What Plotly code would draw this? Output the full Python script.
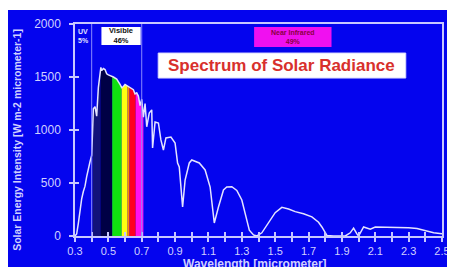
import numpy as np
import plotly.graph_objects as go

# Spectrum data (wavelength in micrometer, intensity W m-2 micrometer-1)
wavelength = [0.30, 0.31, 0.32, 0.33, 0.34, 0.35, 0.36, 0.37, 0.38, 0.39, 0.40, 0.405, 0.41, 0.42, 0.43,
              0.44, 0.45, 0.455, 0.46, 0.47, 0.48, 0.49, 0.50, 0.52, 0.53, 0.55, 0.56, 0.57, 0.58,
              0.59, 0.60, 0.61, 0.62, 0.63, 0.65, 0.66, 0.67, 0.68, 0.69, 0.70, 0.71, 0.72, 0.73,
              0.745, 0.76, 0.765, 0.78, 0.80, 0.815, 0.83, 0.845, 0.875, 0.90, 0.915, 0.925, 0.945,
              0.96, 0.985, 1.00, 1.045, 1.08, 1.11, 1.125, 1.135, 1.16, 1.19, 1.21, 1.24, 1.27,
              1.30, 1.33, 1.345, 1.37, 1.39, 1.42, 1.46, 1.50, 1.54, 1.58, 1.62, 1.67, 1.72,
              1.76, 1.78, 1.81, 1.85, 1.92, 1.95, 1.97, 1.99, 2.00, 2.03, 2.07, 2.10, 2.20,
              2.30, 2.35, 2.40, 2.45, 2.50]
intensity = [0, 20, 120, 260, 350, 420, 470, 560, 640, 700, 760, 1050, 1200, 1220, 1130,
             1400, 1560, 1590, 1560, 1580, 1570, 1530, 1520, 1510, 1500, 1480, 1460, 1430, 1400,
             1410, 1430, 1420, 1410, 1400, 1380, 1340, 1350, 1320, 1230, 1290, 1120, 1250, 1030,
             1160, 1190, 830, 1075, 1066, 906, 811, 925, 934, 877, 689, 651, 274,
             528, 689, 717, 689, 623, 462, 217, 123, 274, 434, 462, 465, 430,
             340, 150, 55, 10, 0, 30, 120, 220, 270, 255, 230, 210, 180,
             130, 85, 5, 0, 0, 30, 75, 20, 0, 85, 65, 85, 82,
             78, 70, 50, 30, 20]

# Colour bands (start, end, colour)
band_start = [0.405, 0.453, 0.523, 0.58, 0.615, 0.627, 0.664]
band_end = [0.453, 0.523, 0.58, 0.615, 0.627, 0.664, 0.71]
band_color = ["#12127a", "#000045", "#10e010", "#ffff10", "#ff8a00", "#ff0020", "#ff10f0"]

x_ticks = [0.3, 0.5, 0.7, 0.9, 1.1, 1.3, 1.5, 1.7, 1.9, 2.1, 2.3, 2.5]
y_ticks = [0, 500, 1000, 1500, 2000]

FONT = "Arial, Liberation Sans, sans-serif"
AXC = "#c8c8ff"
BG = "#0404ee"

wl = np.array(wavelength)
it = np.array(intensity)

fig = go.Figure()

for a, b, c in zip(band_start, band_end, band_color):
    mask = (wl > a) & (wl < b)
    xs = np.concatenate([[a], wl[mask], [b]])
    ys = np.interp(xs, wl, it)
    fig.add_trace(go.Scatter(x=xs, y=ys, mode="lines", line=dict(width=0, color=c),
                             fill="tozeroy", fillcolor=c, hoverinfo="skip", showlegend=False))

fig.add_trace(go.Scatter(x=wavelength, y=intensity, mode="lines",
                         line=dict(color="#e4e4ff", width=1.5), showlegend=False))

# invisible trace for overlay axes (inside ticks)
fig.add_trace(go.Scatter(x=[0.3], y=[0], xaxis="x2", yaxis="y2", mode="markers",
                         marker=dict(opacity=0), showlegend=False, hoverinfo="skip"))

# region dividers
for xv in [0.4, 0.7]:
    fig.add_shape(type="line", x0=xv, x1=xv, y0=0, y1=2000, xref="x", yref="y",
                  line=dict(color="#8a8aff", width=1), layer="above")

# thin white strip at top
fig.add_shape(type="rect", xref="paper", yref="paper", x0=-0.2, x1=1.05, y0=1.066, y1=1.08,
              fillcolor="white", line=dict(width=0), layer="below")

# Title box
fig.add_shape(type="rect", xref="paper", yref="paper", x0=0.2267, x1=0.9013, y0=0.745, y1=0.863,
              fillcolor="white", line=dict(color="#d8d8ff", width=1), layer="above")
fig.add_annotation(xref="paper", yref="paper", x=0.564, y=0.804, xanchor="center", yanchor="middle",
                   text="<b>Spectrum of Solar Radiance</b>",
                   showarrow=False, font=dict(family=FONT, size=17, color="#d8302c"))

# Near infrared box
fig.add_shape(type="rect", xref="paper", yref="paper", x0=0.488, x1=0.699, y0=0.892, y1=0.986,
              fillcolor="#f010f0", line=dict(width=0), layer="above")
fig.add_annotation(xref="paper", yref="paper", x=0.5935, y=0.939, xanchor="center", yanchor="middle",
                   text="<b>Near Infrared<br>49%</b>",
                   showarrow=False, font=dict(family=FONT, size=7, color="#8a0040"))

# Visible box
fig.add_shape(type="rect", xref="paper", yref="paper", x0=0.072, x1=0.179, y0=0.901, y1=0.986,
              fillcolor="white", line=dict(width=0), layer="above")
fig.add_annotation(xref="paper", yref="paper", x=0.1255, y=0.9435, xanchor="center", yanchor="middle",
                   text="<b>Visible<br>46%</b>",
                   showarrow=False, font=dict(family=FONT, size=7.5, color="#101010"))

# UV label
fig.add_annotation(xref="paper", yref="paper", x=0.004, y=0.99, xanchor="left", yanchor="top",
                   text="<b>UV<br>5%</b>", align="left", showarrow=False,
                   font=dict(family=FONT, size=7, color="#e0e0ff"))

# Axis titles
fig.add_annotation(xref="paper", yref="paper", x=-0.16, y=0.455, xanchor="center", yanchor="middle",
                   textangle=-90,
                   text="<b>Solar Energy Intensity [W m-2 micrometer-1]</b>", showarrow=False,
                   font=dict(family=FONT, size=10.5, color="#d0d0ff"))
fig.add_annotation(xref="paper", yref="paper", x=0.49, y=-0.089, xanchor="center", yanchor="top",
                   text="<b>Wavelength [micrometer]</b>", showarrow=False,
                   font=dict(family=FONT, size=12, color="#d0d0ff"))

axis_common = dict(showgrid=False, zeroline=False, linecolor=AXC, linewidth=1.5,
                   tickcolor=AXC, tickwidth=1.5, ticklen=4)

x_tickpos = [v if v < 2.5 else 2.4999 for v in x_ticks]

fig.update_layout(
    width=447, height=259,
    margin=dict(l=67, r=5, t=16, b=31),
    paper_bgcolor=BG, plot_bgcolor=BG,
    showlegend=False,
    xaxis=dict(range=[0.3, 2.5], tickvals=x_tickpos, ticktext=[f"{v:.1f}" for v in x_ticks],
               ticks="outside", showline=True, mirror=True, ticklabeloverflow="allow",
               tickfont=dict(family=FONT, size=11, color="#d0d0ff"),
               minor=dict(dtick=0.1, tick0=0.3, ticks="outside", ticklen=4, tickcolor=AXC, tickwidth=1.5),
               **axis_common),
    yaxis=dict(range=[0, 2000], tickvals=y_ticks, ticks="outside", showline=True, mirror=True,
               ticklabelstandoff=6, tickfont=dict(family=FONT, size=12, color="#d0d0ff"),
               **axis_common),
    xaxis2=dict(range=[0.3, 2.5], overlaying="x", anchor="y2", tickvals=x_tickpos, ticks="inside",
                showticklabels=False, showline=False, showgrid=False, zeroline=False,
                ticklen=4, tickcolor=AXC, tickwidth=1.5,
                minor=dict(dtick=0.1, tick0=0.3, ticks="inside", ticklen=4, tickcolor=AXC, tickwidth=1.5)),
    yaxis2=dict(range=[0, 2000], overlaying="y", anchor="x2", tickvals=y_ticks, ticks="inside",
                showticklabels=False, showline=False, showgrid=False, zeroline=False,
                ticklen=4, tickcolor=AXC, tickwidth=1.5),
)

fig.write_html("out.html")
